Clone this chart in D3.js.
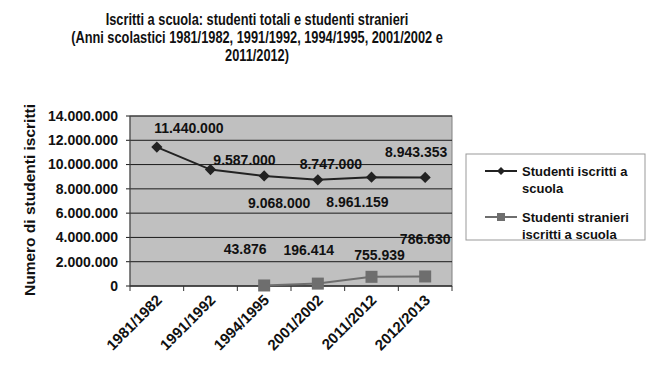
<!DOCTYPE html>
<html>
<head>
<meta charset="utf-8">
<script src="https://cdn.jsdelivr.net/npm/d3@7"></script>
<style>
  body { margin: 0; background: #fff; }
  text { font-family: "Liberation Sans", Arial, sans-serif; font-weight: bold; fill: #111; }
</style>
</head>
<body>
<div id="chart"></div>
<script>
// data
const years = ['1981/1982', '1991/1992', '1994/1995', '2001/2002', '2011/2012', '2012/2013'];
const totali = [11440000, 9587000, 9068000, 8747000, 8961159, 8943353];
const stranieri = [null, null, 43876, 196414, 755939, 786630];
const yTicks = [0, 2000000, 4000000, 6000000, 8000000, 10000000, 12000000, 14000000];
const titleLines = ['Iscritti a scuola: studenti totali e studenti stranieri',
  '(Anni scolastici 1981/1982, 1991/1992, 1994/1995, 2001/2002 e',
  '2011/2012)'];

// label offsets (layout only)
const offTot = [[32, -19], [34, -9], [15, 27], [13, -16], [-14, 25], [-9, -25]];
const offStr = [[-19, -36], [-9, -34], [8, -22], [0, -37]];

const W = 650, H = 379;
const M = { TOP: 116, LEFT: 130, RIGHT: 198, BOTTOM: 93 };
const width = W - M.LEFT - M.RIGHT, height = H - M.TOP - M.BOTTOM;

const fmt = d3.formatLocale({ decimal: ',', thousands: '.', grouping: [3] }).format(',d');

const svg = d3.select('#chart').append('svg')
  .attr('width', W).attr('height', H);

// title, the original font is a condensed bold face
svg.append('g').attr('transform', 'translate(257,0) scale(0.8,1)')
  .selectAll('text').data(titleLines).enter().append('text')
  .attr('x', 0).attr('y', (d, i) => 25 + i * 18)
  .attr('text-anchor', 'middle').attr('font-size', 16)
  .text(d => d);

const g = svg.append('g').attr('transform', `translate(${M.LEFT},${M.TOP})`);

const x = d3.scaleBand().domain(years).range([0, width]);
const y = d3.scaleLinear().domain([0, 14000000]).range([height, 0]);

g.append('rect').attr('width', width).attr('height', height)
  .attr('fill', '#c0c0c0').attr('stroke', '#808080');

g.selectAll('line.grid').data(yTicks).enter().append('line')
  .attr('x1', -4).attr('x2', width)
  .attr('y1', d => y(d)).attr('y2', d => y(d))
  .attr('stroke', '#1a1a1a').attr('stroke-width', 1);

g.append('line').attr('x1', 0).attr('x2', 0).attr('y1', 0).attr('y2', height)
  .attr('stroke', '#444');

// y axis labels
g.selectAll('text.ytick').data(yTicks).enter().append('text')
  .attr('x', -12).attr('y', d => y(d)).attr('dy', '0.35em')
  .attr('text-anchor', 'end').attr('font-size', 14)
  .text(d => fmt(d));

// x axis
const xAxis = g.append('g').attr('transform', `translate(0,${height})`);
xAxis.append('line').attr('x1', 0).attr('x2', width).attr('stroke', '#333');
const bounds = d3.range(years.length + 1).map(i => i * x.bandwidth());
xAxis.selectAll('line.tk').data(bounds).enter().append('line')
  .attr('x1', d => d).attr('x2', d => d).attr('y1', 0).attr('y2', 5)
  .attr('stroke', '#333');
xAxis.selectAll('text').data(years).enter().append('text')
  .attr('transform', d => `translate(${x(d) + x.bandwidth() / 2 + 6},${15}) rotate(-45)`)
  .attr('text-anchor', 'end').attr('font-size', 15)
  .text(d => d);

svg.append('text')
  .attr('transform', `translate(35,${M.TOP + 84}) rotate(-90)`)
  .attr('text-anchor', 'middle').attr('font-size', 15.5)
  .text('Numero di studenti iscritti');

const cx = d => x(d) + x.bandwidth() / 2;

const t = years.map((yr, i) => ({ yr, v: totali[i], i }));
const s = years.map((yr, i) => ({ yr, v: stranieri[i], i })).filter(d => d.v != null);

const line = d3.line().x(d => cx(d.yr)).y(d => y(d.v));

g.append('path').attr('d', line(t)).attr('fill', 'none')
  .attr('stroke', '#222').attr('stroke-width', 2);
g.append('path').attr('d', line(s)).attr('fill', 'none')
  .attr('stroke', '#6e6e6e').attr('stroke-width', 2);

g.selectAll('path.dia').data(t).enter().append('path')
  .attr('transform', d => `translate(${cx(d.yr)},${y(d.v)})`)
  .attr('d', d3.symbol(d3.symbolDiamond2, 80)())
  .attr('fill', '#222');

g.selectAll('rect.sq').data(s).enter().append('rect')
  .attr('x', d => cx(d.yr) - 6).attr('y', d => y(d.v) - 6)
  .attr('width', 12).attr('height', 12).attr('fill', '#6e6e6e');

g.selectAll('text.lt').data(t).enter().append('text')
  .attr('x', d => cx(d.yr) + offTot[d.i][0])
  .attr('y', d => y(d.v) + offTot[d.i][1]).attr('dy', '0.35em')
  .attr('text-anchor', 'middle').attr('font-size', 14)
  .text(d => fmt(d.v));

g.selectAll('text.ls').data(s).enter().append('text')
  .attr('x', (d, j) => cx(d.yr) + offStr[j][0])
  .attr('y', (d, j) => y(d.v) + offStr[j][1]).attr('dy', '0.35em')
  .attr('text-anchor', 'middle').attr('font-size', 14)
  .text(d => fmt(d.v));

// legend
const lg = svg.append('g').attr('transform', 'translate(466,154)');
lg.append('rect').attr('width', 179).attr('height', 86)
  .attr('fill', '#fff').attr('stroke', '#999');
const legendItems = [
  { lines: ['Studenti iscritti a', 'scuola'], color: '#222', sym: 'dia' },
  { lines: ['Studenti stranieri', 'iscritti a scuola'], color: '#6e6e6e', sym: 'sq' }
];
legendItems.forEach((it, k) => {
  const yy = 17 + k * 46;
  lg.append('line').attr('x1', 19).attr('x2', 51).attr('y1', yy).attr('y2', yy)
    .attr('stroke', it.color).attr('stroke-width', 2);
  if (it.sym === 'dia') {
    lg.append('path').attr('transform', `translate(35,${yy})`)
      .attr('d', d3.symbol(d3.symbolDiamond2, 40)()).attr('fill', it.color);
  } else {
    lg.append('rect').attr('x', 31).attr('y', yy - 4).attr('width', 8).attr('height', 8)
      .attr('fill', it.color);
  }
  it.lines.forEach((l, j) => {
    lg.append('text').attr('x', 56).attr('y', yy + j * 17).attr('dy', '0.35em')
      .attr('font-size', 13).text(l);
  });
});
</script>
</body>
</html>
